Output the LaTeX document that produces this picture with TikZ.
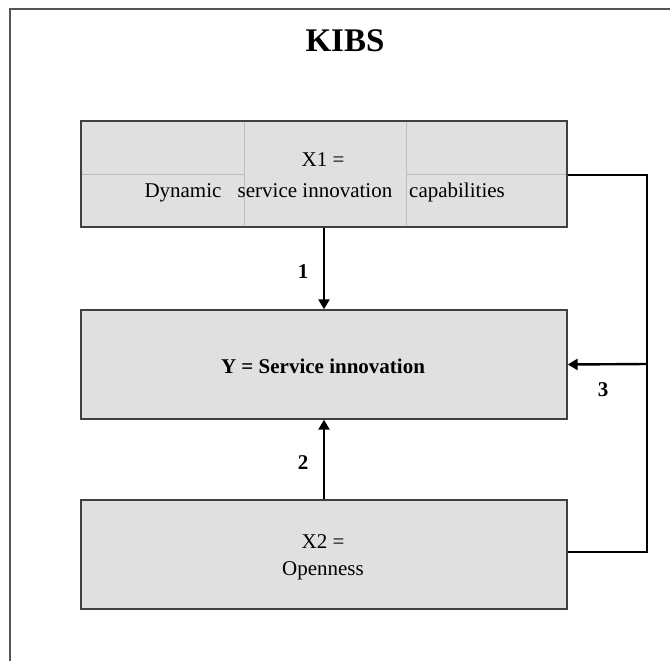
\documentclass[tikz,border=0pt]{standalone}
\usepackage{fontspec}
\setmainfont{Liberation Serif}
\usetikzlibrary{arrows.meta}
\definecolor{boxfill}{HTML}{E0E0E0}
\definecolor{boxline}{HTML}{404040}
\definecolor{gridline}{HTML}{BDBDBD}
\definecolor{frameline}{HTML}{555555}
\begin{document}
\begin{tikzpicture}[x=1pt,y=-1pt,
  box/.style={draw=boxline,line width=1.4pt,fill=boxfill,inner sep=0pt},
  txt/.style={font=\fontsize{21}{25}\selectfont,inner sep=0pt},
  btxt/.style={font=\fontsize{21}{25}\selectfont\bfseries,inner sep=0pt},
  conn/.style={draw=black,line width=2.4pt},
  arr/.style={conn,-{Triangle[length=10pt,width=11pt]}},
  grid/.style={draw=gridline,line width=1pt}]
\useasboundingbox (0,0) rectangle (670,661);
% outer frame
\draw[frameline,line width=2pt] (10,680) -- (10,9) -- (690,9);
% title
\node[btxt,font=\fontsize{33}{38}\selectfont\bfseries] (title) at (345,41) {KIBS};
% boxes
\node[box,minimum width=486pt,minimum height=106pt] (top) at (324,174) {};
\node[box,minimum width=486pt,minimum height=109pt] (mid) at (324,364.5) {};
\node[box,minimum width=486pt,minimum height=109pt] (bot) at (324,554.5) {};
% table grid in top box
\draw[grid] (244,121.7) -- (244,226.3);
\draw[grid] (406,121.7) -- (406,226.3);
\draw[grid] (81.7,174.3) -- (244,174.3);
\draw[grid] (406,174.3) -- (566.3,174.3);
% texts
\node[txt] (x1) at (323,160) {X1 =};
\node[txt,anchor=base] (w1) at (183,197) {Dynamic};
\node[txt,anchor=base] (w2) at (315,197) {service innovation};
\node[txt,anchor=base] (w3) at (457,197) {capabilities};
\node[btxt] (ytxt) at (323,366) {Y = Service innovation};
\node[txt] (x2a) at (323,542) {X2 =};
\node[txt] (x2b) at (323,571) {Openness};
% connectors
\draw[arr] (top.south) -- (mid.north);
\draw[arr] (bot.north) -- (mid.south);
\coordinate (c1) at (647,175);
\coordinate (c2) at (647,552);
\coordinate (j) at (647,364);
\draw[conn,line join=miter] (top.east |- c1) -- (c1) -- (c2) -- (bot.east |- c2);
\draw[arr] (j) -- (mid.east);
% labels
\node[btxt] (l1) at (303,272) {1};
\node[btxt] (l2) at (303,463) {2};
\node[btxt] (l3) at (603,390) {3};
\end{tikzpicture}
\end{document}
